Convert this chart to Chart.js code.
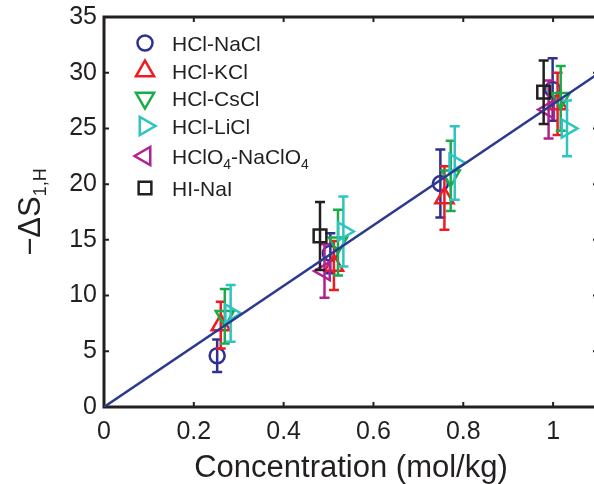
<!DOCTYPE html>
<html>
<head>
<meta charset="utf-8">
<script src="https://cdn.jsdelivr.net/npm/chart.js@4.4.0/dist/chart.umd.min.js"></script>
<style>
html, body { margin: 0; padding: 0; background: #fff; overflow: hidden; }
</style>
</head>
<body>
<canvas id="chart" width="611" height="484"></canvas>
<script>
// tick labels
const x_ticks = [0, 0.2, 0.4, 0.6, 0.8, 1];
const y_ticks = [0, 5, 10, 15, 20, 25, 30, 35];

// series names (_4 = subscript)
const etiquetas = ['HCl-NaCl', 'HCl-KCl', 'HCl-CsCl', 'HCl-LiCl', 'HClO_4-NaClO_4', 'HI-NaI'];

// values
const nacl_x = [0.252, 0.504, 0.749, 0.999];
const nacl_y = [4.6, 13.8, 20.05, 28.5];
const nacl_err = [1.45, 1.8, 3.05, 2.8];

const kcl_x = [0.26, 0.512, 0.758, 1.01];
const kcl_y = [7.35, 12.7, 18.75, 27.2];
const kcl_err = [2.1, 2.2, 2.85, 2.8];

const cscl_x = [0.269, 0.521, 0.772, 1.017];
const cscl_y = [8.15, 14.75, 20.75, 27.7];
const cscl_err = [2.45, 2.95, 3.15, 2.9];

const licl_x = [0.282, 0.533, 0.781, 1.031];
const licl_y = [8.4, 15.75, 21.9, 25.0];
const licl_err = [2.55, 3.15, 3.3, 2.5];

const hclo4_x = [0.491, 0.99];
const hclo4_y = [12.2, 26.7];
const hclo4_err = [2.4, 2.6];

const hi_x = [0.481, 0.979];
const hi_y = [15.35, 28.25];
const hi_err = [3.05, 2.85];

// fitted line
const fit_x = [0, 1.1];
const fit_y = [0, 29.9];

const colores = ['#2e3192', '#ed1c24', '#1aab4b', '#2ec4c0', '#b0228f', '#231f20'];
const texto = '#231f20';
const fuente = "'Liberation Sans', Arial, Helvetica, sans-serif";

const puntos = (xs, ys) => xs.map((x, i) => ({x: x, y: ys[i]}));

const serie = (i, xs, ys, errs, estilo, rot, radio) => ({
    type: 'scatter',
    label: etiquetas[i],
    data: puntos(xs, ys),
    errors: errs,
    borderColor: colores[i],
    backgroundColor: 'rgba(0,0,0,0)',
    borderWidth: 2.5,
    pointStyle: estilo,
    rotation: rot,
    pointRadius: radio,
    pointHoverRadius: radio,
    order: 6 - i
});

// marker shape like Chart.js, for the legend
const dibujar_marcador = (ctx, estilo, rot, r, x, y) => {
    ctx.beginPath();
    if (estilo === 'circle') {
        ctx.arc(x, y, r, 0, Math.PI * 2);
    } else if (estilo === 'triangle') {
        let rad = rot * Math.PI / 180;
        ctx.moveTo(x + Math.sin(rad) * r, y - Math.cos(rad) * r);
        rad += Math.PI * 2 / 3;
        ctx.lineTo(x + Math.sin(rad) * r, y - Math.cos(rad) * r);
        rad += Math.PI * 2 / 3;
        ctx.lineTo(x + Math.sin(rad) * r, y - Math.cos(rad) * r);
        ctx.closePath();
    } else {
        const s = Math.SQRT1_2 * r;
        ctx.rect(x - s, y - s, 2 * s, 2 * s);
    }
    ctx.stroke();
};

// text with _x or _{xy} subscripts
const texto_rico = (ctx, txt, x, y, size, subsize, shift, align) => {
    const partes = [];
    const re = /_\{([^}]*)\}|_(.)/g;
    let last = 0, m;
    while ((m = re.exec(txt)) !== null) {
        if (m.index > last) partes.push({t: txt.slice(last, m.index), sub: false});
        partes.push({t: m[1] !== undefined ? m[1] : m[2], sub: true});
        last = re.lastIndex;
    }
    if (last < txt.length) partes.push({t: txt.slice(last), sub: false});
    let total = 0;
    partes.forEach(p => {
        ctx.font = (p.sub ? subsize : size) + 'px ' + fuente;
        p.w = ctx.measureText(p.t).width;
        total += p.w;
    });
    let cx = align === 'center' ? x - total / 2 : x;
    ctx.textAlign = 'left';
    ctx.textBaseline = 'alphabetic';
    partes.forEach(p => {
        ctx.font = (p.sub ? subsize : size) + 'px ' + fuente;
        ctx.fillText(p.t, cx, p.sub ? y + shift : y);
        cx += p.w;
    });
};

const ejes_matlab = {
    id: 'ejes_matlab',
    beforeDatasetsDraw(chart) {
        const {ctx, chartArea: a, scales} = chart;
        ctx.save();
        ctx.strokeStyle = texto;
        ctx.lineWidth = 2;
        const t = 5;
        ctx.beginPath();
        x_ticks.forEach(v => {
            const px = scales.x.getPixelForValue(v);
            ctx.moveTo(px, a.bottom); ctx.lineTo(px, a.bottom - t);
            ctx.moveTo(px, a.top); ctx.lineTo(px, a.top + t);
        });
        y_ticks.forEach(v => {
            const py = scales.y.getPixelForValue(v);
            ctx.moveTo(a.left, py); ctx.lineTo(a.left + t, py);
            ctx.moveTo(a.right, py); ctx.lineTo(a.right - t, py);
        });
        ctx.stroke();
        ctx.lineWidth = 3;
        ctx.beginPath();
        ctx.rect(a.left, a.top, a.right - a.left, a.bottom - a.top);
        ctx.stroke();
        ctx.restore();
    }
};

const barras_error = {
    id: 'barras_error',
    afterDatasetDraw(chart, args) {
        const ds = chart.data.datasets[args.index];
        if (!ds.errors) return;
        const {ctx, scales} = chart;
        ctx.save();
        ctx.strokeStyle = ds.borderColor;
        ctx.lineWidth = 2.5;
        ctx.beginPath();
        ds.data.forEach((p, i) => {
            const px = scales.x.getPixelForValue(p.x);
            const y1 = scales.y.getPixelForValue(p.y + ds.errors[i]);
            const y2 = scales.y.getPixelForValue(p.y - ds.errors[i]);
            ctx.moveTo(px, y1); ctx.lineTo(px, y2);
            ctx.moveTo(px - 5, y1); ctx.lineTo(px + 5, y1);
            ctx.moveTo(px - 5, y2); ctx.lineTo(px + 5, y2);
        });
        ctx.stroke();
        ctx.restore();
    }
};

const leyenda = {
    id: 'leyenda',
    afterDraw(chart) {
        const ctx = chart.ctx;
        const filas = [43, 71, 98, 126, 156, 188];
        ctx.save();
        chart.data.datasets.forEach(ds => {
            const i = etiquetas.indexOf(ds.label);
            if (i < 0) return;
            ctx.strokeStyle = ds.borderColor;
            ctx.lineWidth = 2.5;
            dibujar_marcador(ctx, ds.pointStyle, ds.rotation, ds.pointRadius, 145, filas[i]);
            ctx.fillStyle = texto;
            texto_rico(ctx, ds.label, 172, filas[i] + 7.5, 21, 14, 5, 'left');
        });
        // y axis title
        ctx.translate(40, 212);
        ctx.rotate(-Math.PI / 2);
        ctx.fillStyle = texto;
        texto_rico(ctx, '\u2212\u0394S_{1,H}', 0, 0, 31, 18, 6, 'center');
        ctx.restore();
    }
};

new Chart(document.getElementById('chart'), {
    plugins: [ejes_matlab, barras_error, leyenda],
    data: {
        datasets: [
            {
                type: 'line',
                label: 'ajuste',
                data: puntos(fit_x, fit_y),
                borderColor: '#2b3990',
                borderWidth: 2.5,
                pointRadius: 0,
                fill: false,
                order: 0
            },
            serie(0, nacl_x, nacl_y, nacl_err, 'circle', 0, 7.5),
            serie(1, kcl_x, kcl_y, kcl_err, 'triangle', 0, 10.5),
            serie(2, cscl_x, cscl_y, cscl_err, 'triangle', 180, 10.5),
            serie(3, licl_x, licl_y, licl_err, 'triangle', 90, 10.5),
            serie(4, hclo4_x, hclo4_y, hclo4_err, 'triangle', -90, 10.5),
            serie(5, hi_x, hi_y, hi_err, 'rect', 0, 9)
        ]
    },
    options: {
        responsive: false,
        animation: false,
        layout: { padding: { top: 17, right: 3, left: 0, bottom: 0 } },
        plugins: {
            legend: { display: false },
            tooltip: { enabled: false }
        },
        scales: {
            x: {
                type: 'linear',
                min: 0,
                max: 1.1,
                afterBuildTicks: (scale) => { scale.ticks = x_ticks.map(v => ({value: v})); },
                afterFit: (scale) => { scale.height = 77; },
                grid: { display: false, drawTicks: false },
                border: { display: false },
                ticks: { color: texto, font: { family: fuente, size: 25 }, padding: 10, maxRotation: 0, callback: (v) => String(v) },
                title: { display: true, text: 'Concentration (mol/kg)', color: texto, font: { family: fuente, size: 31, lineHeight: 1 }, padding: { top: 0, bottom: 0 } }
            },
            y: {
                type: 'linear',
                min: 0,
                max: 35,
                afterBuildTicks: (scale) => { scale.ticks = y_ticks.map(v => ({value: v})); },
                afterFit: (scale) => { scale.width = 104; scale.paddingTop = 0; scale.paddingBottom = 0; },
                grid: { display: false, drawTicks: false },
                border: { display: false },
                ticks: { color: texto, font: { family: fuente, size: 25 }, padding: 7, callback: (v) => String(v) }
            }
        }
    }
});
</script>
</body>
</html>
